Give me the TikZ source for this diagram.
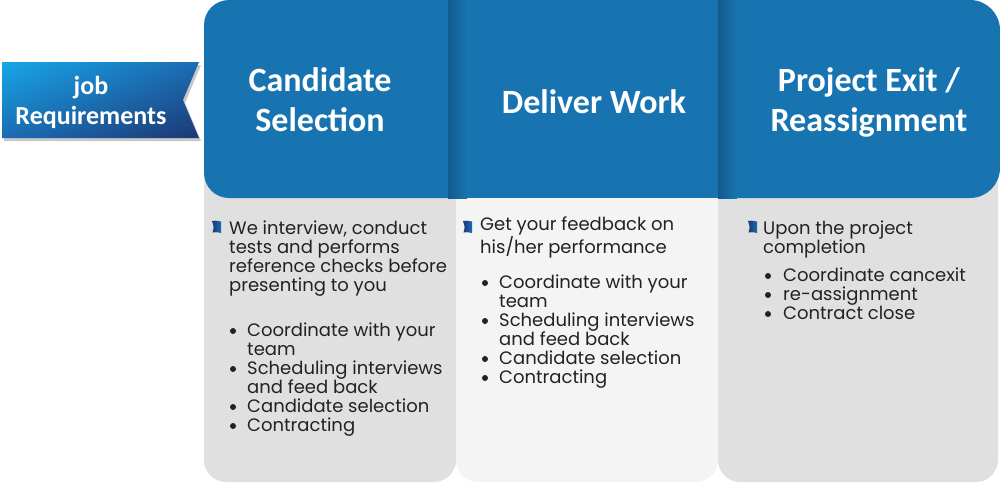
\documentclass[tikz,border=0pt]{standalone}
\usepackage{fontspec}
\setmainfont{Poppins}
\newfontfamily\hfont{Carlito}
\usetikzlibrary{shadings}
\definecolor{hblue}{HTML}{1874B0}
\definecolor{hdark}{HTML}{135A8C}
\definecolor{gbody}{HTML}{E0E0E0}
\definecolor{lbody}{HTML}{F4F4F4}
\definecolor{txt}{HTML}{222222}
\definecolor{tagcyan}{HTML}{17A6E6}
\definecolor{tagnavy}{HTML}{1D3872}
\definecolor{tagmid}{HTML}{1B6CB4}
\tikzset{
  htext/.style={text=white, align=center, inner sep=0pt,
    font=\hfont\bfseries\fontsize{34}{40}\selectfont},
  tagtext/.style={text=white, align=center, inner sep=0pt,
    font=\hfont\bfseries\fontsize{26}{30}\selectfont},
  btext/.style={text=txt, align=left, inner sep=0pt, anchor=base west,
    font=\fontsize{18}{19}\selectfont},
  bdot/.style={circle, fill=txt, inner sep=0pt, minimum size=6pt},
  iconfill/.style={left color=tagnavy, right color=tagmid},
}
\newcommand\bicon[2]{%
  \shade[iconfill] (#1,#2) .. controls (#1+3,#2-0.5) .. (#1+9,#2+0.5) -- (#1+9,#2+12) .. controls (#1+4,#2+11) .. (#1+0.5,#2+11.5) .. controls (#1+2,#2+6) .. cycle;}
\begin{document}
\begin{tikzpicture}[x=1pt,y=-1pt]
\useasboundingbox (0,0) rectangle (1000,482);
% bodies
\fill[gbody] (204,180) -- (456,180) -- (456,460) arc[start angle=0,end angle=90,radius=22] -- (226,482) arc[start angle=90,end angle=180,radius=22] -- cycle;
\fill[lbody] (456,180) -- (718,180) -- (718,460) arc[start angle=0,end angle=90,radius=22] -- (478,482) arc[start angle=90,end angle=180,radius=22] -- cycle;
\fill[gbody] (718,180) -- (998,180) -- (998,460) arc[start angle=0,end angle=90,radius=22] -- (740,482) arc[start angle=90,end angle=180,radius=22] -- cycle;
% headers
\fill[hblue] (718,0) -- (970,0) arc[start angle=270,end angle=360,radius=30] -- (1000,168) arc[start angle=0,end angle=90,radius=30] -- (718,198) -- cycle;
\shade[left color=hdark, right color=hblue] (718,0) rectangle (737,198);
\fill[hblue] (448,0) rectangle (718,198);
\shade[left color=hdark, right color=hblue] (448,0) rectangle (467,198);
\fill[hblue] (448,0) -- (229,0) arc[start angle=270,end angle=180,radius=25] -- (204,173) arc[start angle=180,end angle=90,radius=25] -- (448,198) -- cycle;
% tag
\fill[black!22] (4,65) -- (201,65) -- (185,103) -- (201,141) -- (4,141) -- cycle;
\shade[upper left=tagcyan, lower right=tagnavy, upper right=tagmid, lower left=tagmid] (2,62) -- (199,62) -- (183,100) -- (199,138) -- (2,138) -- cycle;
\node[tagtext] (tag) at (91,102) {job\\Requirements};
% header texts
\node[htext] (h1) at (320,100) {Candidate\\Selection};
\node[htext] (h2) at (594,102) {Deliver Work};
\node[htext] (h3) at (869,102) {Project Exit /\\Reassignment};
% column 1
\bicon{212}{221}
\node[btext] (c1i) at (229,291) {We interview, conduct\\tests and performs\\reference checks before\\presenting to you};
\node[bdot] (c1d1) at (233,331) {};
\node[btext] (c1a) at (247,355) {Coordinate with your\\team};
\node[bdot] (c1d2) at (233,369) {};
\node[btext] (c1b) at (247,393) {Scheduling interviews\\and feed back};
\node[bdot] (c1d3) at (233,407) {};
\node[btext] (c1c) at (247,412) {Candidate selection};
\node[bdot] (c1d4) at (233,426) {};
\node[btext] (c1e) at (247,431) {Contracting};
% column 2
\bicon{463}{221}
\node[btext] (c2i) at (480,253) {Get your feedback on\\his/her performance};
\node[bdot] (c2d1) at (485,283) {};
\node[btext] (c2a) at (499,307) {Coordinate with your\\team};
\node[bdot] (c2d2) at (485,321) {};
\node[btext] (c2b) at (499,345) {Scheduling interviews\\and feed back};
\node[bdot] (c2d3) at (485,359) {};
\node[btext] (c2c) at (499,364) {Candidate selection};
\node[bdot] (c2d4) at (485,378) {};
\node[btext] (c2e) at (499,383) {Contracting};
% column 3
\bicon{748}{221}
\node[btext] (c3i) at (763,253) {Upon the project\\completion};
\node[bdot] (c3d1) at (768,276) {};
\node[btext] (c3a) at (783,281) {Coordinate cancexit};
\node[bdot] (c3d2) at (768,295) {};
\node[btext] (c3b) at (783,300) {re-assignment};
\node[bdot] (c3d3) at (768,314) {};
\node[btext] (c3c) at (783,319) {Contract close};
\end{tikzpicture}
\end{document}
